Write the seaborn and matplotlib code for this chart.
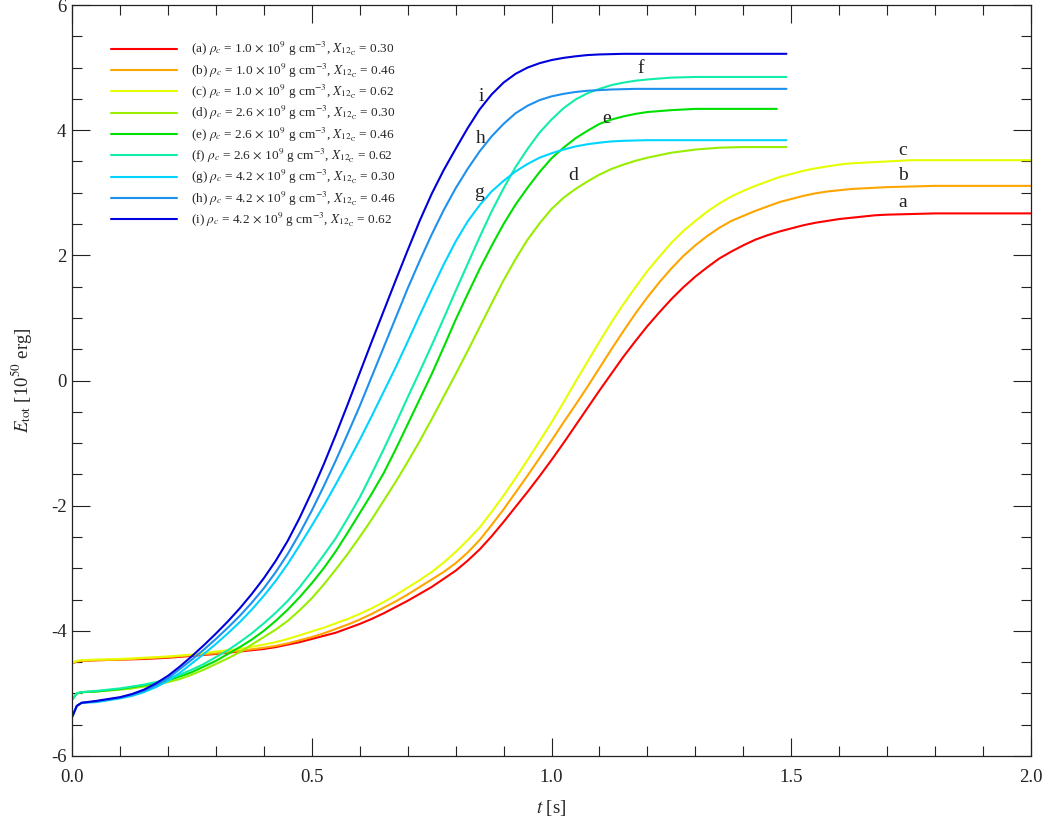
import numpy as np
import pandas as pd
import matplotlib
matplotlib.use("Agg")
import matplotlib.pyplot as plt
from matplotlib.ticker import MultipleLocator
import seaborn as sns

# ---------------- data ----------------
# time grids [s]
t_abc = ([0, 0.01, 0.02, 0.05, 0.1, 0.15, 0.2, 0.25, 0.3, 0.35]
         + [round(0.4 + 0.025 * k, 3) for k in range(53)]
         + [1.75, 1.8, 1.9, 2.0])
t_early = [0, 0.01, 0.02, 0.05, 0.075]
t_core = [round(0.1 + 0.025 * k, 3) for k in range(45)]
t_d = t_early + t_core + [1.25, 1.3, 1.35, 1.4, 1.45, 1.49]
t_e = t_early + t_core + [1.25, 1.3, 1.35, 1.4, 1.45, 1.47]
t_f = t_d
t_g = t_d
t_h = t_d
t_i = t_d

# total energy [1e50 erg]
E_a = ([-4.52, -4.49, -4.48, -4.47, -4.46, -4.45, -4.43, -4.40, -4.37, -4.33]
       + [-4.29, -4.26, -4.22, -4.18, -4.13, -4.08, -4.03, -3.96, -3.89, -3.81,
          -3.72, -3.62, -3.52, -3.41, -3.30, -3.17, -3.04, -2.88, -2.70, -2.49,
          -2.26, -2.02, -1.78, -1.53, -1.27, -1.00, -0.72, -0.44, -0.16, 0.11,
          0.38, 0.63, 0.87, 1.09, 1.30, 1.49, 1.66, 1.81, 1.95, 2.06,
          2.16, 2.25, 2.32, 2.38, 2.43, 2.48, 2.52, 2.55, 2.58, 2.60,
          2.62, 2.64, 2.65]
       + [2.66, 2.67, 2.67, 2.67])
E_b = ([-4.52, -4.49, -4.48, -4.47, -4.46, -4.44, -4.42, -4.39, -4.36, -4.32]
       + [-4.27, -4.24, -4.20, -4.15, -4.10, -4.04, -3.97, -3.90, -3.82, -3.73,
          -3.63, -3.53, -3.42, -3.30, -3.18, -3.06, -2.92, -2.75, -2.55, -2.31,
          -2.06, -1.79, -1.52, -1.24, -0.96, -0.67, -0.39, -0.10, 0.20, 0.50,
          0.79, 1.07, 1.33, 1.57, 1.79, 1.99, 2.16, 2.31, 2.44, 2.55,
          2.63, 2.71, 2.78, 2.85, 2.90, 2.95, 2.99, 3.02, 3.04, 3.06,
          3.07, 3.08, 3.09]
       + [3.10, 3.11, 3.11, 3.11])
E_c = ([-4.51, -4.48, -4.47, -4.46, -4.45, -4.43, -4.41, -4.38, -4.33, -4.29]
       + [-4.22, -4.18, -4.13, -4.07, -4.01, -3.95, -3.88, -3.81, -3.73, -3.64,
          -3.54, -3.43, -3.31, -3.19, -3.06, -2.91, -2.74, -2.55, -2.35, -2.10,
          -1.84, -1.56, -1.27, -0.97, -0.67, -0.35, -0.02, 0.30, 0.62, 0.93,
          1.22, 1.49, 1.75, 1.98, 2.20, 2.39, 2.55, 2.70, 2.83, 2.94,
          3.03, 3.11, 3.18, 3.25, 3.30, 3.35, 3.39, 3.42, 3.45, 3.47,
          3.48, 3.49, 3.50]
       + [3.52, 3.52, 3.52, 3.52])
E_d = ([-5.10, -5.00, -4.98, -4.97, -4.955]
       + [-4.94, -4.92, -4.89, -4.86, -4.82, -4.77, -4.70, -4.62, -4.53, -4.44,
          -4.34, -4.22, -4.10, -3.98, -3.84, -3.67, -3.48, -3.26, -3.02, -2.77,
          -2.50, -2.22, -1.92, -1.62, -1.30, -0.97, -0.62, -0.26, 0.10, 0.47,
          0.85, 1.23, 1.60, 1.94, 2.25, 2.51, 2.74, 2.92, 3.06, 3.18,
          3.29, 3.38, 3.45, 3.51, 3.56]
       + [3.64, 3.69, 3.72, 3.73, 3.73, 3.73])
E_e = ([-5.10, -5.00, -4.98, -4.97, -4.95]
       + [-4.93, -4.90, -4.87, -4.83, -4.79, -4.73, -4.66, -4.57, -4.48, -4.37,
          -4.26, -4.14, -4.00, -3.84, -3.66, -3.46, -3.24, -3.00, -2.73, -2.43,
          -2.12, -1.81, -1.48, -1.10, -0.70, -0.30, 0.10, 0.53, 0.97, 1.38,
          1.78, 2.15, 2.50, 2.81, 3.08, 3.33, 3.55, 3.72, 3.87, 3.99,
          4.10, 4.17, 4.22, 4.26, 4.29]
       + [4.32, 4.34, 4.34, 4.34, 4.34, 4.34])
E_f = ([-5.10, -5.00, -4.98, -4.96, -4.94]
       + [-4.92, -4.89, -4.86, -4.82, -4.77, -4.70, -4.62, -4.53, -4.42, -4.31,
          -4.18, -4.04, -3.88, -3.71, -3.52, -3.30, -3.05, -2.79, -2.52, -2.20,
          -1.87, -1.49, -1.10, -0.69, -0.27, 0.14, 0.56, 0.99, 1.43, 1.86,
          2.29, 2.70, 3.07, 3.41, 3.70, 3.96, 4.17, 4.35, 4.49, 4.59,
          4.66, 4.72, 4.76, 4.79, 4.81]
       + [4.84, 4.85, 4.85, 4.85, 4.85, 4.85])
E_g = ([-5.38, -5.20, -5.15, -5.14, -5.11]
       + [-5.08, -5.04, -4.98, -4.90, -4.80, -4.67, -4.52, -4.37, -4.21, -4.04,
          -3.86, -3.66, -3.44, -3.20, -2.93, -2.63, -2.32, -2.00, -1.66, -1.31,
          -0.95, -0.57, -0.18, 0.21, 0.62, 1.04, 1.45, 1.85, 2.22, 2.54,
          2.80, 3.02, 3.19, 3.34, 3.46, 3.56, 3.63, 3.69, 3.74, 3.775,
          3.80, 3.82, 3.83, 3.835, 3.84]
       + [3.84, 3.84, 3.84, 3.84, 3.84, 3.84])
E_h = ([-5.38, -5.20, -5.15, -5.13, -5.10]
       + [-5.07, -5.02, -4.96, -4.87, -4.76, -4.61, -4.46, -4.30, -4.13, -3.95,
          -3.76, -3.55, -3.32, -3.06, -2.77, -2.44, -2.08, -1.69, -1.28, -0.85,
          -0.41, 0.06, 0.53, 1.00, 1.47, 1.91, 2.33, 2.72, 3.07, 3.38,
          3.66, 3.90, 4.10, 4.27, 4.39, 4.48, 4.54, 4.58, 4.61, 4.63,
          4.64, 4.65, 4.655, 4.66, 4.66]
       + [4.66, 4.66, 4.66, 4.66, 4.66, 4.66])
E_i = ([-5.38, -5.20, -5.15, -5.12, -5.09]
       + [-5.06, -5.01, -4.94, -4.84, -4.72, -4.57, -4.405, -4.23, -4.045, -3.85,
          -3.64, -3.41, -3.16, -2.88, -2.56, -2.19, -1.78, -1.34, -0.87, -0.38,
          0.12, 0.62, 1.11, 1.60, 2.08, 2.55, 2.98, 3.36, 3.70, 4.03,
          4.33, 4.57, 4.76, 4.90, 5.00, 5.07, 5.12, 5.155, 5.18, 5.20,
          5.21, 5.215, 5.22, 5.22, 5.22]
       + [5.22, 5.22, 5.22, 5.22, 5.22, 5.22])

letters = ["a", "b", "c", "d", "e", "f", "g", "h", "i"]
rho_labels = ["1.0", "1.0", "1.0", "2.6", "2.6", "2.6", "4.2", "4.2", "4.2"]
xc_labels = ["0.30", "0.46", "0.62", "0.30", "0.46", "0.62", "0.30", "0.46", "0.62"]
colors = ["#ff0000", "#ffa500", "#e6ff00", "#99ee00", "#00e000",
          "#11eeaa", "#00d4ff", "#1e90ee", "#0000dd"]

# in-plot curve letters (data coordinates)
letter_t = [1.733, 1.733, 1.733, 1.046, 1.115, 1.185, 0.848, 0.852, 0.854]
letter_E = [2.84, 3.28, 3.68, 3.28, 4.19, 4.98, 3.01, 3.87, 4.53]

times = [t_abc, t_abc, t_abc, t_d, t_e, t_f, t_g, t_h, t_i]
energies = [E_a, E_b, E_c, E_d, E_e, E_f, E_g, E_h, E_i]

labels = [rf"({l}) $\rho_c$ = {r} $\times$ 10$^9$ g cm$^{{-3}}$, $X_{{12_{{\rm C}}}}$ = {x}"
          for l, r, x in zip(letters, rho_labels, xc_labels)]

frames = []
for lab, tt, ee in zip(labels, times, energies):
    assert len(tt) == len(ee), (lab, len(tt), len(ee))
    frames.append(pd.DataFrame({"t": tt, "E": ee, "model": lab}))
df = pd.concat(frames, ignore_index=True)

# ---------------- style ----------------
sns.set_style("ticks")
plt.rcParams["font.family"] = ["Liberation Serif", "DejaVu Serif"]
plt.rcParams["mathtext.fontset"] = "stix"
plt.rcParams["axes.unicode_minus"] = False

fig = plt.figure(figsize=(10.5, 8.27), dpi=100)
ax = fig.add_axes([72 / 1050, 1 - 756 / 827, 959 / 1050, 751 / 827])

sns.lineplot(data=df, x="t", y="E", hue="model", palette=dict(zip(labels, colors)),
             hue_order=labels, ax=ax, legend=False, linewidth=1.5, sort=False,
             estimator=None)

for l, lt, le in zip(letters, letter_t, letter_E):
    ax.text(lt, le, l, fontsize=14, ha="center", va="center", color="#222222")

ax.set_xlim(0, 2.0)
ax.set_ylim(-6, 6)
ax.xaxis.set_major_locator(MultipleLocator(0.5))
ax.xaxis.set_minor_locator(MultipleLocator(0.1))
ax.yaxis.set_major_locator(MultipleLocator(2))
ax.yaxis.set_minor_locator(MultipleLocator(0.5))
ax.xaxis.set_major_formatter(plt.FuncFormatter(lambda v, p: f"{v:.1f}"))
ax.yaxis.set_major_formatter(plt.FuncFormatter(lambda v, p: f"{v:.0f}"))
ax.tick_params(which="both", direction="in", top=True, right=True,
               labelsize=13.5, colors="#222222", width=0.8)
ax.tick_params(which="major", length=13)
ax.tick_params(which="minor", length=7)
ax.tick_params(axis="x", which="major", pad=9)
ax.tick_params(axis="y", which="major", pad=4)
for s in ax.spines.values():
    s.set_linewidth(0.9)
    s.set_color("#222222")

ax.set_xlabel(r"$t$ [s]", fontsize=13.5, labelpad=9)
ax.set_ylabel(r"$E_{\rm tot}$ [10$^{50}$ erg]", fontsize=13.5, labelpad=12)

handles = ax.get_lines()[:9]
ax.legend(handles, labels, loc="upper left", bbox_to_anchor=(0.028, 0.969),
          frameon=False, fontsize=9.5, handlelength=5.0, handletextpad=1.1,
          labelspacing=0.24)

fig.savefig("out.png", dpi=100)
